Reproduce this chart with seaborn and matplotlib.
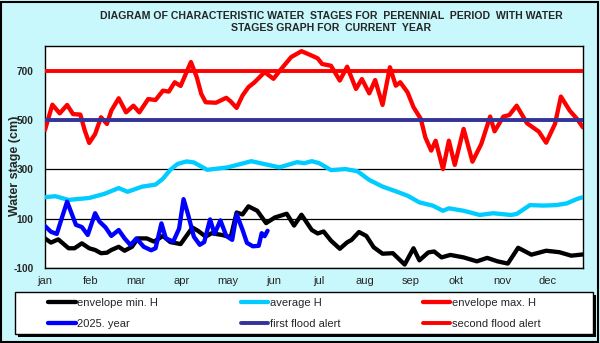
import matplotlib
matplotlib.use("Agg")
import matplotlib.pyplot as plt
from matplotlib.patches import Rectangle
import seaborn as sns

# ---- data (day of year, water stage in cm) ----
months = ["jan", "feb", "mar", "apr", "may", "jun", "jul", "aug", "sep", "okt", "nov", "dec"]
month_ticks = [0, 31, 62, 93, 124, 155, 186, 217, 248, 279, 310, 341]
y_ticks = [-100, 100, 300, 500, 700]

min_days = [0, 4, 9, 16, 20, 25, 30, 34, 38, 42, 45, 50, 54, 59, 63, 69, 74, 80, 85, 92,
            100, 104, 109, 113, 120, 126, 130, 134, 138, 144, 150, 156, 164, 169, 174,
            181, 185, 189, 194, 200, 205, 208, 213, 218, 223, 229, 236, 244, 250, 254,
            260, 264, 269, 275, 284, 293, 300, 307, 314, 321, 330, 340, 349, 357, 365]
min_h = [20, 3, 16, -20, -20, 0, -20, -27, -40, -38, -27, -14, -30, -14, 20, 20, 7, 30, 5, -3,
         64, 50, 27, 41, 34, 25, 125, 117, 150, 132, 82, 105, 120, 72, 116,
         54, 40, 48, 11, -22, 4, 14, 46, 30, -16, -42, -40, -86, -20, -69,
         -37, -33, -57, -47, -57, -73, -59, -73, -82, -18, -46, -30, -36, -50, -45]

avg_days = [0, 7, 16, 30, 40, 50, 56, 66, 75, 80, 85, 90, 96, 101, 110, 124, 140, 159,
            171, 176, 181, 186, 194, 204, 212, 220, 229, 238, 246, 254, 263, 270, 274,
            284, 295, 304, 316, 320, 329, 338, 347, 354, 361, 365]
avg_h = [187, 191, 176, 184, 200, 224, 209, 230, 238, 262, 298, 322, 332, 328, 298, 308, 333, 308,
         329, 325, 333, 325, 297, 301, 292, 257, 230, 211, 193, 166, 153, 132, 142,
         132, 115, 122, 115, 119, 155, 153, 155, 162, 180, 187]

max_days = [0, 5, 10, 15, 19, 24, 27, 30, 34, 38, 42, 45, 50, 55, 60, 64, 70, 75, 80, 84,
            88, 92, 99, 103, 106, 109, 116, 123, 126, 130, 134, 138, 142, 149, 155, 160,
            167, 174, 181, 185, 188, 194, 200, 205, 211, 215, 220, 224, 229, 234, 238,
            241, 246, 250, 255, 258, 262, 265, 270, 274, 278, 284, 290, 296, 302, 305,
            311, 315, 320, 327, 335, 340, 346, 350, 356, 361, 365]
max_h = [460, 562, 527, 561, 524, 522, 457, 407, 443, 511, 484, 538, 588, 531, 558, 531, 585, 581, 619, 615,
         653, 638, 735, 673, 606, 572, 570, 590, 575, 549, 599, 633, 652, 694, 667, 705,
         755, 779, 761, 750, 727, 720, 660, 716, 626, 666, 608, 662, 561, 714, 639,
         653, 612, 552, 504, 430, 376, 416, 301, 416, 318, 464, 331, 403, 514, 454,
         514, 520, 558, 487, 453, 408, 484, 595, 538, 504, 470]

year_days = [0, 4, 8, 11, 15, 18, 21, 25, 29, 34, 37, 41, 45, 50, 54, 58, 62, 67, 72, 75,
             79, 82, 87, 91, 94, 97, 101, 105, 108, 112, 115, 119, 123, 127, 130, 134,
             137, 141, 145, 147, 149, 151]
year_h = [70, 47, 38, 95, 169, 122, 75, 66, 34, 122, 88, 65, 30, 54, 20, -7, 20, -14, -28, -20,
          81, 20, 7, 60, 179, 118, 27, -6, 5, 97, 38, 93, 30, 14, 118, 55,
          2, -12, -10, 41, 29, 51]

first_flood_alert = 500
second_flood_alert = 700

# ---- style ----
sns.set_style("white")
plt.rcParams["font.family"] = ["Liberation Sans", "DejaVu Sans"]

BG = "#c8f8fb"
W, H = 600, 343
fig = plt.figure(figsize=(W / 100, H / 100), dpi=100, facecolor=BG)
ax = fig.add_axes([45 / W, 75 / H, 538 / W, 222 / H])
ax.set_facecolor("white")

lw = 3.1
kw = dict(ax=ax, legend=False, linewidth=lw, solid_joinstyle="round",
          solid_capstyle="round", zorder=3)
sns.lineplot(x=min_days, y=min_h, color="#000000", label="envelope min. H", **kw)
sns.lineplot(x=avg_days, y=avg_h, color="#00ccff", label="average H", **kw)
sns.lineplot(x=max_days, y=max_h, color="#ff0000", label="envelope max. H", **kw)
sns.lineplot(x=year_days, y=year_h, color="#0000ff", label="2025. year", **kw)
ax.axhline(first_flood_alert, color="#333399", linewidth=2.8, zorder=4, label="first flood alert")
ax.axhline(second_flood_alert, color="#ff0000", linewidth=2.8, zorder=4, label="second flood alert")

# axes
ax.set_xlim(0, 365)
ax.set_ylim(-100, 800)
ax.set_xticks(month_ticks)
ax.set_xticklabels(months, fontsize=8)
ax.set_yticks(y_ticks)
ax.set_yticklabels([str(v) for v in y_ticks], fontsize=7.3, fontweight="bold")
ax.tick_params(axis="x", direction="out", length=2.2, width=0.8, color="black", pad=3.5)
ax.tick_params(axis="y", direction="out", length=2.2, width=0.8, color="black", pad=6)
ax.yaxis.grid(True, color="black", linewidth=0.9, zorder=1)
ax.xaxis.grid(False)
for s in ax.spines.values():
    s.set_color("black")
    s.set_linewidth(1.0)
ax.set_xlabel("")
ax.set_ylabel("Water stage (cm)", fontsize=9, fontweight="bold")
ax.yaxis.label.set_va("center")
ax.yaxis.set_label_coords(-0.056, 0.462)

# title
fig.text(331 / W, 1 - 22 / H,
         "DIAGRAM OF CHARACTERISTIC WATER  STAGES FOR  PERENNIAL  PERIOD  WITH WATER\n"
         "STAGES GRAPH FOR  CURRENT  YEAR",
         ha="center", va="center", fontsize=7.6, fontweight="bold", linespacing=1.2)

# legend box with shadow
bx0, by0, bw, bh = 14.5 / W, 9 / H, 578.5 / W, 42 / H
fig.add_artist(Rectangle((bx0 + 3 / W, by0 - 3 / H), bw, bh, transform=fig.transFigure,
                         facecolor="black", edgecolor="none", zorder=1))
fig.add_artist(Rectangle((bx0, by0), bw, bh, transform=fig.transFigure,
                         facecolor="white", edgecolor="black", linewidth=1.0, zorder=2))

handles, labels = ax.get_legend_handles_labels()
order = [0, 3, 1, 4, 2, 5]
leg = fig.legend([handles[i] for i in order], [labels[i] for i in order],
                 ncol=3, loc="upper left", bbox_to_anchor=(48 / W, 1 - 298 / H),
                 bbox_transform=fig.transFigure, frameon=False, fontsize=8,
                 handlelength=2.5, handletextpad=0.15, columnspacing=7.4,
                 labelspacing=1.0, borderpad=0, borderaxespad=0)
leg.set_zorder(5)

# outer frame
fig.add_artist(Rectangle((0.8 / W, 1.5 / H), 597 / W, 339.5 / H, transform=fig.transFigure,
                         facecolor="none", edgecolor="black", linewidth=1.5, zorder=6))

fig.savefig("out.png", dpi=100, facecolor=BG)
